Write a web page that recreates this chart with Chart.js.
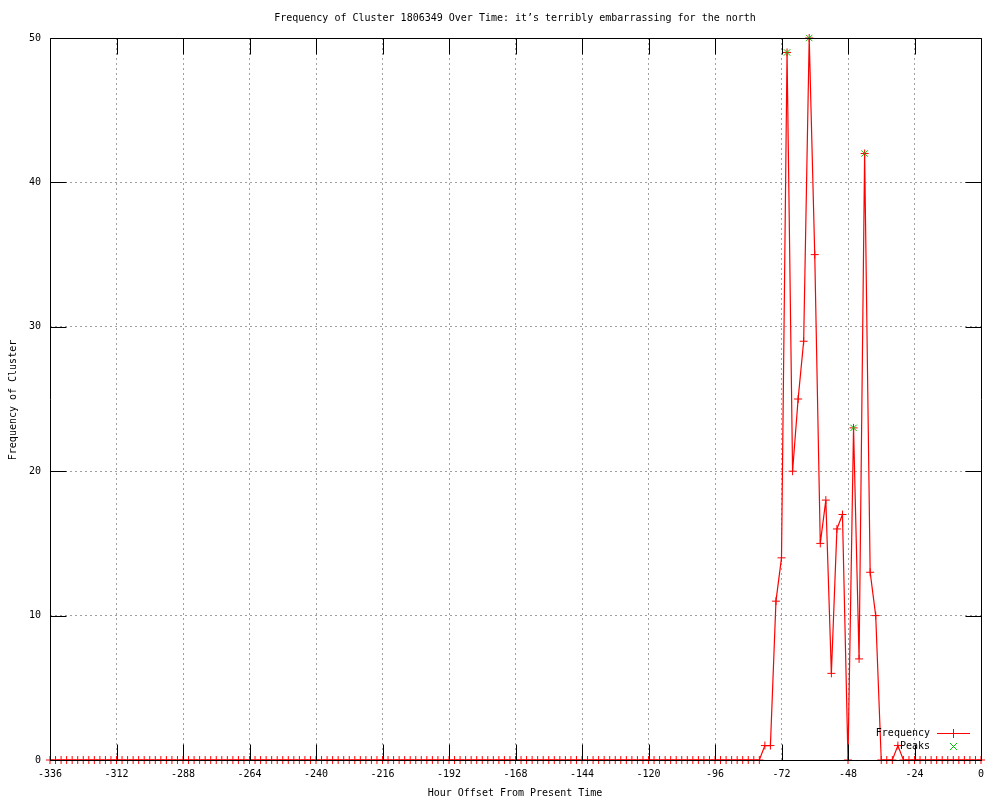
<!DOCTYPE html>
<html><head><meta charset="utf-8">
<script src="https://cdn.jsdelivr.net/npm/chart.js@4.4.0/dist/chart.umd.min.js"></script>
<style>html,body{margin:0;padding:0;background:#fff}#wrap{width:1000px;height:800px}</style>
</head><body><div id="wrap"><canvas id="c" width="1000" height="800"></canvas></div>
<script>
const TITLE = "Frequency of Cluster 1806349 Over Time: it’s terribly embarrassing for the north";
const X_TITLE = "Hour Offset From Present Time";
const Y_TITLE = "Frequency of Cluster";
const SERIES_NAMES = ["Frequency", "Peaks"];

const hours = [
  -336,-334,-332,-330,-328,-326,-324,-322,-320,-318,-316,-314,
  -312,-310,-308,-306,-304,-302,-300,-298,-296,-294,-292,-290,
  -288,-286,-284,-282,-280,-278,-276,-274,-272,-270,-268,-266,
  -264,-262,-260,-258,-256,-254,-252,-250,-248,-246,-244,-242,
  -240,-238,-236,-234,-232,-230,-228,-226,-224,-222,-220,-218,
  -216,-214,-212,-210,-208,-206,-204,-202,-200,-198,-196,-194,
  -192,-190,-188,-186,-184,-182,-180,-178,-176,-174,-172,-170,
  -168,-166,-164,-162,-160,-158,-156,-154,-152,-150,-148,-146,
  -144,-142,-140,-138,-136,-134,-132,-130,-128,-126,-124,-122,
  -120,-118,-116,-114,-112,-110,-108,-106,-104,-102,-100,-98,
  -96,-94,-92,-90,-88,-86,-84,-82,-80,-78,-76,-74,
  -72,-70,-68,-66,-64,-62,-60,-58,-56,-54,-52,-50,
  -48,-46,-44,-42,-40,-38,-36,-34,-32,-30,-28,-26,
  -24,-22,-20,-18,-16,-14,-12,-10,-8,-6,-4,-2,
  0
];
const frequency = [
  0,0,0,0,0,0,0,0,0,0,0,0,
  0,0,0,0,0,0,0,0,0,0,0,0,
  0,0,0,0,0,0,0,0,0,0,0,0,
  0,0,0,0,0,0,0,0,0,0,0,0,
  0,0,0,0,0,0,0,0,0,0,0,0,
  0,0,0,0,0,0,0,0,0,0,0,0,
  0,0,0,0,0,0,0,0,0,0,0,0,
  0,0,0,0,0,0,0,0,0,0,0,0,
  0,0,0,0,0,0,0,0,0,0,0,0,
  0,0,0,0,0,0,0,0,0,0,0,0,
  0,0,0,0,0,0,0,0,0,1,1,11,
  14,49,20,25,29,50,35,15,18,6,16,17,
  0,23,7,42,13,10,0,0,0,1,0,0,
  0,0,0,0,0,0,0,0,0,0,0,0,
  0
];
const peakHours = [-70, -62, -46, -42];
const peakValues = [49, 50, 23, 42];
const xTickValues = [-336,-312,-288,-264,-240,-216,-192,-168,-144,-120,-96,-72,-48,-24,0];
const yTickValues = [0,10,20,30,40,50];

const FONT = "'DejaVu Sans Mono', 'Liberation Mono', monospace";
const RED = '#ff0000';
const GREEN = '#00c000';

const decor = {
  id: 'decor',
  afterDatasetsDraw(chart) {
    const ctx = chart.ctx;
    const a = chart.chartArea;
    const xs = chart.scales.x, ys = chart.scales.y;
    ctx.save();
    ctx.strokeStyle = '#000';
    ctx.lineWidth = 1;
    ctx.setLineDash([]);
    ctx.beginPath();
    const L = Math.round(a.left) + 0.5, R = Math.round(a.right) + 0.5;
    const T = Math.round(a.top) + 0.5, B = Math.round(a.bottom) + 0.5;
    ctx.rect(L, T, R - L, B - T);
    const tl = 16;
    xTickValues.forEach(v => {
      const px = Math.round(xs.getPixelForValue(v)) + 0.5;
      ctx.moveTo(px, B); ctx.lineTo(px, B - tl);
      ctx.moveTo(px, T); ctx.lineTo(px, T + tl);
    });
    yTickValues.forEach(v => {
      const py = Math.round(ys.getPixelForValue(v)) + 0.5;
      ctx.moveTo(L, py); ctx.lineTo(L + tl, py);
      ctx.moveTo(R, py); ctx.lineTo(R - tl, py);
    });
    ctx.stroke();
    ctx.restore();
  },
  afterDraw(chart) {
    const ctx = chart.ctx;
    ctx.save();
    ctx.globalAlpha = 1;
    ctx.setLineDash([]);
    ctx.fillStyle = '#000';
    ctx.font = '10px ' + FONT;
    ctx.textAlign = 'center';
    ctx.textBaseline = 'middle';
    ctx.fillText(TITLE, 515, 18);
    ctx.fillText(X_TITLE, 515, 793);
    ctx.save();
    ctx.translate(13, 400);
    ctx.rotate(-Math.PI / 2);
    ctx.fillText(Y_TITLE, 0, 0);
    ctx.restore();
    // legend
    ctx.textAlign = 'right';
    ctx.fillText(SERIES_NAMES[0], 930, 733);
    ctx.fillText(SERIES_NAMES[1], 930, 746);
    ctx.fillStyle = RED;
    ctx.fillRect(937, 733, 33, 1);
    ctx.fillRect(953, 729, 1, 9);
    ctx.fillRect(949, 733, 9, 1);
    ctx.fillStyle = GREEN;
    for (let i = -3; i <= 3; i++) {
      ctx.fillRect(953 + i, 746 + i, 1, 1);
      ctx.fillRect(953 + i, 746 - i, 1, 1);
    }
    ctx.restore();
  }
};

new Chart(document.getElementById('c'), {
  type: 'line',
  data: {
    datasets: [
      {
        label: SERIES_NAMES[1],
        data: peakHours.map((h, i) => ({x: h, y: peakValues[i]})),
        showLine: false,
        pointStyle: 'crossRot',
        pointRadius: 4.5,
        pointBorderColor: GREEN,
        pointBackgroundColor: GREEN,
        pointBorderWidth: 1,
        borderColor: GREEN,
        clip: false,
        order: 0
      },
      {
        label: SERIES_NAMES[0],
        data: hours.map((h, i) => ({x: h, y: frequency[i]})),
        borderColor: RED,
        borderWidth: 1.2,
        tension: 0,
        fill: false,
        pointStyle: 'cross',
        pointRadius: 4,
        pointBorderColor: RED,
        pointBorderWidth: 1,
        clip: false,
        order: 1
      }
    ]
  },
  options: {
    responsive: false,
    animation: false,
    devicePixelRatio: 1,
    layout: { padding: { top: 38, right: 19, left: 0, bottom: 0 } },
    plugins: { legend: { display: false }, title: { display: false }, tooltip: { enabled: false } },
    scales: {
      x: {
        type: 'linear',
        min: -336, max: 0,
        afterBuildTicks: s => { s.ticks = xTickValues.map(v => ({value: v})); },
        afterFit: s => { s.height = 40; },
        ticks: { color: '#000', font: { family: FONT, size: 10 }, padding: 8, maxRotation: 0, autoSkip: false },
        grid: { color: '#a0a0a0', lineWidth: 1, drawTicks: false, tickLength: 0 },
        border: { display: false, dash: [2, 3] }
      },
      y: {
        type: 'linear',
        min: 0, max: 50,
        afterBuildTicks: s => { s.ticks = yTickValues.map(v => ({value: v})); },
        afterFit: s => { s.width = 50; },
        ticks: { color: '#000', font: { family: FONT, size: 10 }, padding: 9 },
        grid: { color: '#a0a0a0', lineWidth: 1, drawTicks: false, tickLength: 0 },
        border: { display: false, dash: [2, 3] }
      }
    }
  },
  plugins: [decor]
});
</script>
</body></html>
